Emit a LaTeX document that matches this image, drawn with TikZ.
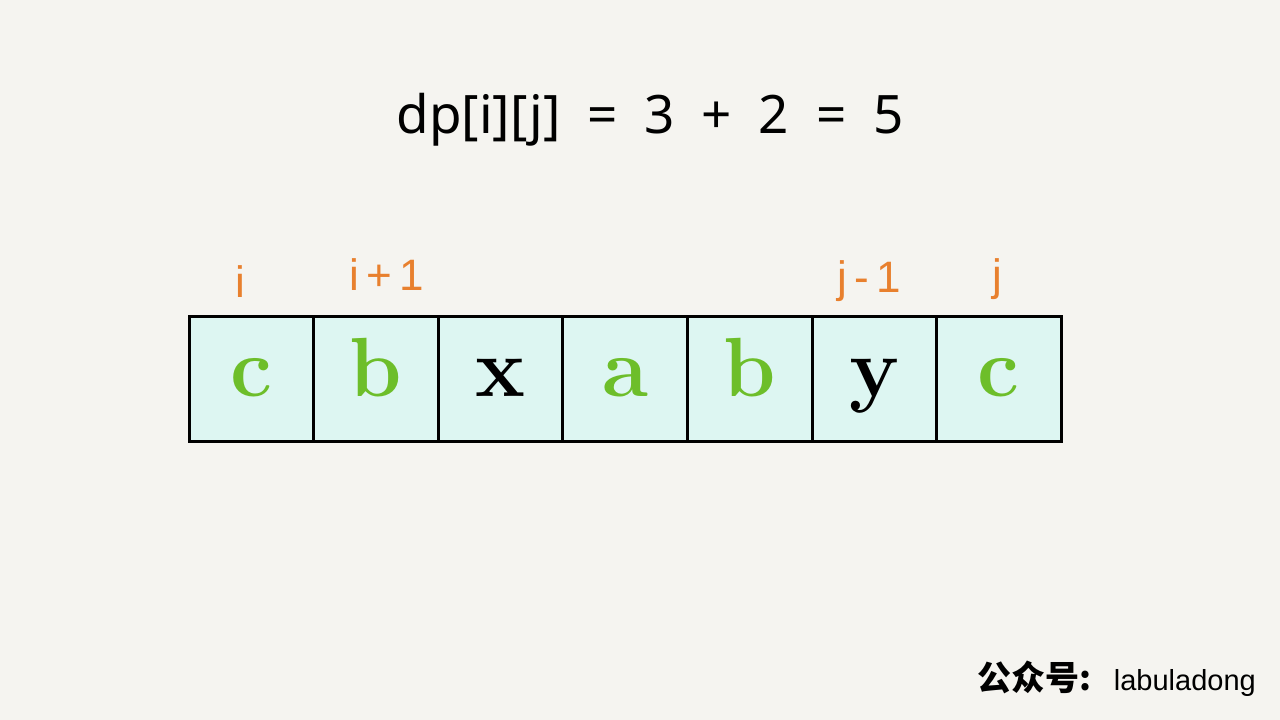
\documentclass[tikz,border=0pt]{standalone}
\usepackage{fontspec}
\newfontfamily\titlefont{Noto Sans}
\newfontfamily\markfont{Liberation Sans}
\newfontfamily\cjkfont{Noto Sans CJK SC}
\usetikzlibrary{positioning}

\definecolor{paper}{HTML}{F5F4F0}
\definecolor{cellfill}{HTML}{DDF6F2}
\definecolor{chgreen}{HTML}{6DBE2A}
\definecolor{idxorange}{HTML}{E8802E}

\newcommand{\gap}{\hspace{13pt}}

\tikzset{
  cell/.style={draw=black,line width=3pt,fill=cellfill,outer sep=0pt,inner sep=0pt,
    minimum width=124.6pt,minimum height=125pt,text height=35pt,text depth=0pt,
    font=\fontsize{84}{84}\selectfont\bfseries},
  same/.style={cell,text=chgreen},
  odd/.style={cell,text=black},
  idx/.style={text=idxorange,anchor=base,inner sep=0pt,font=\markfont\fontsize{44}{44}\selectfont}
}

\begin{document}
\begin{tikzpicture}[x=1pt,y=-1pt]
\fill[paper] (0,0) rectangle (1280,720);
\useasboundingbox (0,0) rectangle (1280,720);

% the formula
\node[anchor=base,inner sep=0pt,font=\titlefont\fontsize{53}{53}\selectfont] (title) at (650,133)
  {dp[i][j] \gap= \gap3 \gap+ \gap2 \gap= \gap5};

% the string
\node[same] (c1) at (251.3,378.5) {c};
\node[same,right=0pt of c1] (c2) {b};
\node[odd,right=0pt of c2] (c3) {x};
\node[same,right=0pt of c3] (c4) {a};
\node[same,right=0pt of c4] (c5) {b};
\node[odd,right=0pt of c5] (c6) {y};
\node[same,right=0pt of c6] (c7) {c};

% the indices
\node[idx] (li) at (240,297) {i};
\node[idx] (lip) at (387,290) {i\,+\,1};
\node[idx] (ljm) at (869,292) {j\,-\,1};
\node[idx] (lj) at (997,290) {j};

% footer
\node[anchor=base east,inner sep=0pt,font=\markfont\fontsize{29}{29}\selectfont] (brand) at (1256,690) {labuladong};
\node[anchor=base east,inner sep=0pt,font=\cjkfont\bfseries\fontsize{34}{34}\selectfont] (pub) at ([xshift=-22pt]brand.base west) {公众号:};
\end{tikzpicture}
\end{document}
